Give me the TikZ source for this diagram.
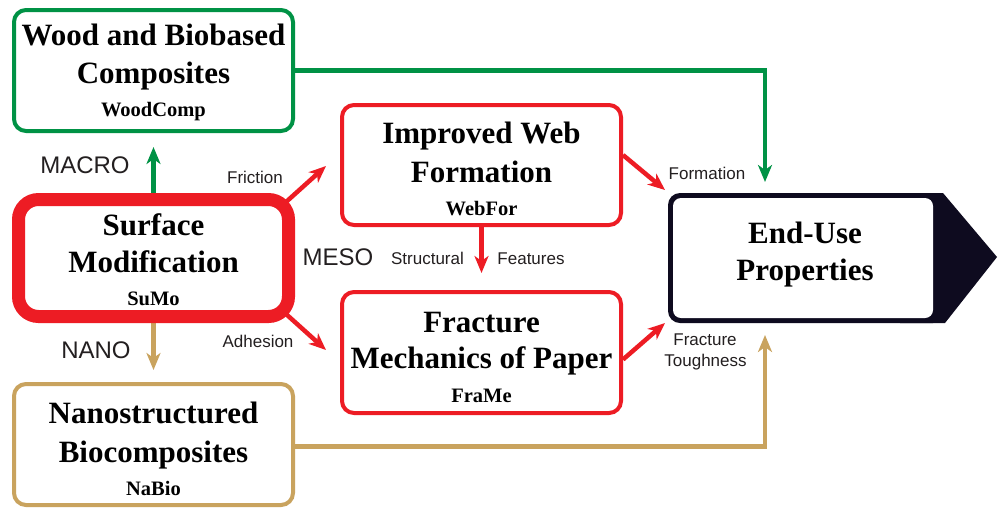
\documentclass[tikz,border=0pt]{standalone}
\usepackage{fontspec}
\setmainfont{Liberation Serif}
\setsansfont{Liberation Sans}
\usetikzlibrary{arrows.meta}
\definecolor{cgreen}{HTML}{009245}
\definecolor{cred}{HTML}{ED1C24}
\definecolor{ctan}{HTML}{C9A35E}
\definecolor{cdark}{HTML}{0E0B1F}
\definecolor{cgrey}{HTML}{231F20}
\begin{document}
\begin{tikzpicture}[x=1pt,y=-1pt,
  box/.style={rounded corners=12pt, line width=4pt, fill=white, inner sep=0pt, minimum width=279pt},
  ttl/.style={font=\fontsize{31}{37}\selectfont\bfseries, anchor=base, inner sep=0pt},
  subttl/.style={font=\fontsize{20.5}{24}\selectfont\bfseries, anchor=base, inner sep=0pt},
  scalelbl/.style={font=\sffamily\fontsize{24}{28}\selectfont, anchor=base, text=cgrey, inner sep=0pt},
  lbl/.style={font=\sffamily\fontsize{17}{21}\selectfont, anchor=base, text=cgrey, inner sep=0pt},
  arr/.style={line width=4.5pt, -{Stealth[length=17pt,width=14pt,inset=5pt]}},
]
\useasboundingbox[fill=white] (0,0) rectangle (1000,507);

% arrow tips
\coordinate (tipmacro) at (153.5,147);
\coordinate (tipnano) at (153.5,370);
\coordinate (tipfric) at (326,166);
\coordinate (tipadh) at (326,350);
\coordinate (tipstruct) at (481.5,273);
\coordinate (tipform) at (665,190);
\coordinate (tipfrac) at (665,323);
\coordinate (tipgreen) at (765,182);
\coordinate (tiptan) at (765,335);

% boxes
\node[box, draw=cgreen, minimum height=121pt] (wood) at (153.5,70.5) {};
\node[box, draw=cred, minimum height=120pt] (webfor) at (481.5,165) {};
\node[box, draw=cred, minimum height=121pt] (frame) at (481.5,352.5) {};
\node[box, draw=ctan, minimum height=121pt] (nabio) at (153.5,444.5) {};
\node[inner sep=0pt, minimum width=270pt, minimum height=117pt, line width=13pt] (sumo) at (153.5,258) {};

% connectors from SuMo (drawn below its frame)
\draw[arr, cred] ([xshift=-9pt,yshift=-9pt]sumo.north east) -- (tipfric);
\draw[arr, cred] ([xshift=-9pt,yshift=9pt]sumo.south east) -- (tipadh);
\draw[arr, cgreen] (sumo.north) -- (tipmacro);
\draw[arr, ctan] (sumo.south) -- (tipnano);

% SuMo frame
\draw[cred, line width=13pt, fill=white, rounded corners=20pt] (18.5,199.5) rectangle (288.5,316.5);

% end-use pentagon
\fill[cdark, rounded corners=12pt] (668,193) rectangle (945,323);
\fill[cdark] (900,193) -- (943,193) -- (997,257) -- (945,323) -- (900,323) -- cycle;
\fill[white, rounded corners=8pt] (673,198) rectangle (933,318);
\node[inner sep=0pt, minimum width=277pt, minimum height=130pt] (enduse) at (806.5,258) {};

% box texts
\node[ttl] (woodt1) at (153.5,45) {Wood and Biobased};
\node[ttl] (woodt2) at (153.5,83) {Composites};
\node[subttl] (woodt3) at (153.5,116) {WoodComp};

\node[ttl] (sumot1) at (153.5,235) {Surface};
\node[ttl] (sumot2) at (153.5,272) {Modification};
\node[subttl] (sumot3) at (153.5,305) {SuMo};

\node[ttl] (nabiot1) at (153.5,423) {Nanostructured};
\node[ttl] (nabiot2) at (153.5,462) {Biocomposites};
\node[subttl] (nabiot3) at (153.5,495) {NaBio};

\node[ttl] (webfort1) at (481.5,143) {Improved Web};
\node[ttl] (webfort2) at (481.5,182) {Formation};
\node[subttl] (webfort3) at (481.5,215) {WebFor};

\node[ttl] (framet1) at (481.5,332) {Fracture};
\node[ttl] (framet2) at (481.5,368) {Mechanics of Paper};
\node[subttl] (framet3) at (481.5,402) {FraMe};

\node[ttl] (endt1) at (805,243) {End-Use};
\node[ttl] (endt2) at (805,280) {Properties};

% other connectors
\draw[arr, cred] (webfor.south) -- (tipstruct);
\draw[arr, cred] ([yshift=10pt]webfor.east) -- (tipform);
\draw[arr, cred] ([yshift=-7pt]frame.east) -- (tipfrac);
\draw[arr, cgreen] (wood.east) -| (tipgreen);
\draw[arr, ctan] ([yshift=-2pt]nabio.east) -| (tiptan);

% labels
\node[scalelbl] (macro) at (85,173) {MACRO};
\node[scalelbl] (nano) at (96,358) {NANO};
\node[scalelbl] (meso) at (338,265) {MESO};
\node[lbl] (friction) at (255,183) {Friction};
\node[lbl] (adhesion) at (258,347) {Adhesion};
\node[lbl] (structural) at (427.5,264) {Structural};
\node[lbl] (features) at (531,264) {Features};
\node[lbl] (formation) at (707,179) {Formation};
\node[lbl] (fracture) at (705,345) {Fracture};
\node[lbl] (toughness) at (705.5,366) {Toughness};
\end{tikzpicture}
\end{document}
